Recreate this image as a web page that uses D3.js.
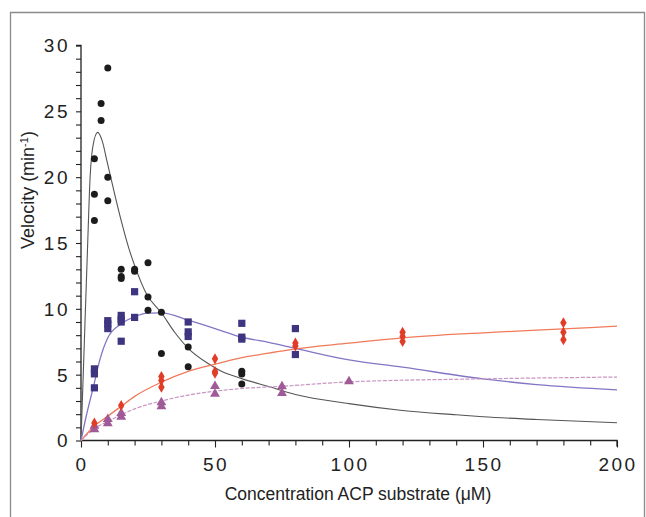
<!DOCTYPE html>
<html><head><meta charset="utf-8">
<script src="https://cdn.jsdelivr.net/npm/d3@7"></script>
<style>
html,body{margin:0;padding:0;background:#fff;}
svg{display:block;}
text{font-family:"Liberation Sans",Arial,Helvetica,sans-serif;fill:#222;}
</style></head>
<body>
<script>
// ---- data ----
const xTickValues = [0, 50, 100, 150, 200];
const yTickValues = [0, 5, 10, 15, 20, 25, 30];

// black circles
const circX = [5,5,5, 7.5,7.5, 10,10,10, 15,15,15, 20,20, 25,25,25, 30,30, 40,40, 60,60,60];
const circY = [21.4,18.7,16.7, 25.6,24.3, 28.3,20.0,18.2, 13.0,12.45,12.3, 13.0,12.85, 13.5,10.9,9.9, 9.75,6.6, 7.1,5.6, 5.26,5.06,4.3];

// dark blue squares
const sqX = [5,5,5, 10,10,10, 15,15,15,15, 20,20, 40,40,40, 60,60,60, 80,80];
const sqY = [5.44,5.06,4.0, 9.1,8.85,8.5, 9.5,9.2,9.0,7.54, 11.3,9.35, 9.0,8.25,7.9, 8.9,7.85,7.7, 8.5,6.53];

// red diamonds
const diaX = [5, 15, 30,30,30, 50,50,50, 80,80, 120,120,120, 180,180,180];
const diaY = [1.32, 2.66, 4.86,4.56,4.05, 6.2,5.24,5.11, 7.4,7.18, 8.22,7.9,7.52, 8.94,8.22,7.65];

// mauve triangles
const triX = [5,5, 10,10, 15,15, 30,30, 50,50, 75,75, 100];
const triY = [1.1,0.85, 1.62,1.3, 2.07,1.8, 2.9,2.58, 4.12,3.54, 4.1,3.6, 4.48];

// fitted curves
const blackCurveX = [0,1.2,2.4,3.4,4.4,6.2,8,9.6,12,15,18,20,24.5,30,35,40,47,52,60,70,80,100,120,140,150,170,200];
const blackCurveY = [0,7.2,14.4,20,22.3,23.4,22.7,21.3,19.2,16.7,14.5,13.3,11.1,9.7,8.2,7.0,5.9,5.3,4.7,4.1,3.5,2.8,2.28,1.95,1.8,1.6,1.35];

const blueCurveX = [0,2,4.6,7,10,15,20,25,30,40,50,60,70,80,100,120,150,170,200];
const blueCurveY = [0,1.9,4.05,6.1,7.8,8.86,9.4,9.67,9.7,9.15,8.5,7.85,7.45,7.0,6.12,5.57,4.68,4.25,3.85];

const orangeCurveX = [0,5,10,15,20,30,40,50,60,70,80,100,120,150,180,200];
const orangeCurveY = [0,1.1,1.85,2.6,3.35,4.43,5.25,5.8,6.3,6.63,6.96,7.39,7.8,8.18,8.48,8.68];

const pinkCurveX = [0,5,10,15,20,30,40,50,60,75,100,150,200];
const pinkCurveY = [0,0.9,1.45,1.95,2.4,3.0,3.45,3.75,3.95,4.12,4.45,4.68,4.82];

// ---- drawing ----
const W = 646, H = 517;
const svg = d3.select("body").append("svg").attr("width", W).attr("height", H);

// outer frame of the scanned figure
svg.append("path")
  .attr("d", "M10.5,517 L10.5,12.5 L644.5,12.5 L644.5,517")
  .attr("fill", "none").attr("stroke", "#8a8a8a").attr("stroke-width", 1.3);

const x = d3.scaleLinear().domain([0, 200]).range([81, 617]);
const y = d3.scaleLinear().domain([0, 30]).range([440.5, 45.5]);

const axisColor = "#222";

// y axis: minor ticks every 1
const gy = svg.append("g").attr("transform", `translate(${x(0)},0)`);
gy.call(d3.axisLeft(y).tickValues(d3.range(0, 31, 1)).tickSize(5).tickFormat(""));
gy.select(".domain").attr("stroke", axisColor).attr("stroke-width", 1.3).attr("d", `M-5,${y(30)}H0V${y(0)}`);
gy.selectAll(".tick line").attr("stroke", axisColor).attr("stroke-width", 1.1);
// y tick labels
svg.append("g").selectAll("text").data(yTickValues).join("text")
  .attr("x", 70).attr("y", d => y(d)).attr("dy", "0.36em")
  .attr("text-anchor", "end").attr("font-size", 19).attr("letter-spacing", "2.5px")
  .text(d => d);

// x axis: ticks every 10, longer at 50s
const gx = svg.append("g").attr("transform", `translate(0,${y(0)})`);
gx.call(d3.axisBottom(x).tickValues(d3.range(0, 201, 10)).tickSize(5).tickFormat(""));
gx.select(".domain").attr("stroke", axisColor).attr("stroke-width", 1.3).attr("d", `M${x(0)},0H${x(200)}V6`);
gx.selectAll(".tick line").attr("stroke", axisColor).attr("stroke-width", 1.1)
  .attr("y2", d => d % 50 === 0 ? 7 : 5);
svg.append("g").selectAll("text").data(xTickValues).join("text")
  .attr("x", d => x(d) + 1).attr("y", 471)
  .attr("text-anchor", "middle").attr("font-size", 19).attr("letter-spacing", "2.5px")
  .text(d => d);

// axis titles
svg.append("text").attr("x", 358).attr("y", 500).attr("text-anchor", "middle")
  .attr("font-size", 17.5).text("Concentration ACP substrate (\u03BCM)");
const yl = svg.append("text").attr("transform", "translate(34,190) rotate(-90)")
  .attr("text-anchor", "middle").attr("font-size", 18);
yl.append("tspan").text("Velocity (min");
yl.append("tspan").attr("baseline-shift", "super").attr("font-size", 11).text("-1");
yl.append("tspan").text(")");

// curves
const line = d3.line().x(d => x(d[0])).y(d => y(d[1])).curve(d3.curveMonotoneX);
const zip = (a, b) => a.map((v, i) => [v, b[i]]);
svg.append("path").attr("d", line(zip(blackCurveX, blackCurveY)))
  .attr("fill", "none").attr("stroke", "#555").attr("stroke-width", 1.1);
svg.append("path").attr("d", line(zip(blueCurveX, blueCurveY)))
  .attr("fill", "none").attr("stroke", "#8375c4").attr("stroke-width", 1.3);
svg.append("path").attr("d", line(zip(orangeCurveX, orangeCurveY)))
  .attr("fill", "none").attr("stroke", "#f07a5a").attr("stroke-width", 1.3);
svg.append("path").attr("d", line(zip(pinkCurveX, pinkCurveY)))
  .attr("fill", "none").attr("stroke", "#c994c4").attr("stroke-width", 1.2)
  .attr("stroke-dasharray", "4,1.5");

// markers
svg.append("g").selectAll("rect").data(zip(sqX, sqY)).join("rect")
  .attr("x", d => x(d[0]) - 3.6).attr("y", d => y(d[1]) - 3.6)
  .attr("width", 7.2).attr("height", 7.2).attr("fill", "#3e3580");
svg.append("g").selectAll("circle").data(zip(circX, circY)).join("circle")
  .attr("cx", d => x(d[0])).attr("cy", d => y(d[1])).attr("r", 3.5).attr("fill", "#1c1c1c");
const tri = d3.symbol().type(d3.symbolTriangle).size(42);
svg.append("g").selectAll("path").data(zip(triX, triY)).join("path")
  .attr("transform", d => `translate(${x(d[0])},${y(d[1])})`).attr("d", tri())
  .attr("fill", "#a05a98");
const dia = d3.symbol().type(d3.symbolDiamond).size(36);
svg.append("g").selectAll("path").data(zip(diaX, diaY)).join("path")
  .attr("transform", d => `translate(${x(d[0])},${y(d[1])})`).attr("d", dia())
  .attr("fill", "#e03c28");
</script>
</body></html>
